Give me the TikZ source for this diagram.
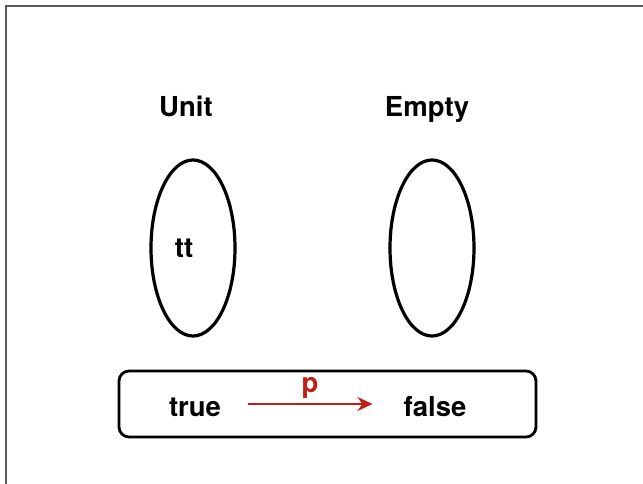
\documentclass[tikz,border=0pt]{standalone}
\usepackage{fontspec}
\setmainfont{TeX Gyre Heros}
\usetikzlibrary{shapes.geometric,arrows.meta}
\definecolor{pathred}{RGB}{192,32,20}
\tikzstyle{txt}=[font=\bfseries\fontsize{27.5}{32}\selectfont, inner sep=0pt, anchor=base]
\tikzstyle{set}=[draw, ellipse, line width=3.2pt, minimum width=84pt, minimum height=176pt, inner sep=0pt]

\begin{document}
\begin{tikzpicture}[x=1pt, y=-1pt]
				\useasboundingbox (0,0) rectangle (643,484);
				\draw[gray!70!black, line width=1.5pt] (6,484) -- (6,6) -- (643,6);
				\node[txt] (unit) at (186,117) {Unit};
				\node[txt] (empty) at (427,117) {Empty};
				\node[set] (unitset) at (193,248) {};
				\node[set] (emptyset) at (432,248) {};
				\node[txt] (tt) at (184,258) {tt};
				\draw[line width=2.8pt, rounded corners=10pt] (119,371) rectangle (536,437);
				\node[txt] (true) at (195,416) {true};
				\node[txt] (false) at (435,416) {false};
				\node[txt, text=pathred] (p) at (310,392) {p};
				\draw[pathred, line width=2.5pt, -{Stealth[length=15pt, width=14pt]}, shorten <=27pt, shorten >=31pt] ([yshift=12pt]true.base east) -- ([yshift=12pt]false.base west);
			\end{tikzpicture}
\end{document}
